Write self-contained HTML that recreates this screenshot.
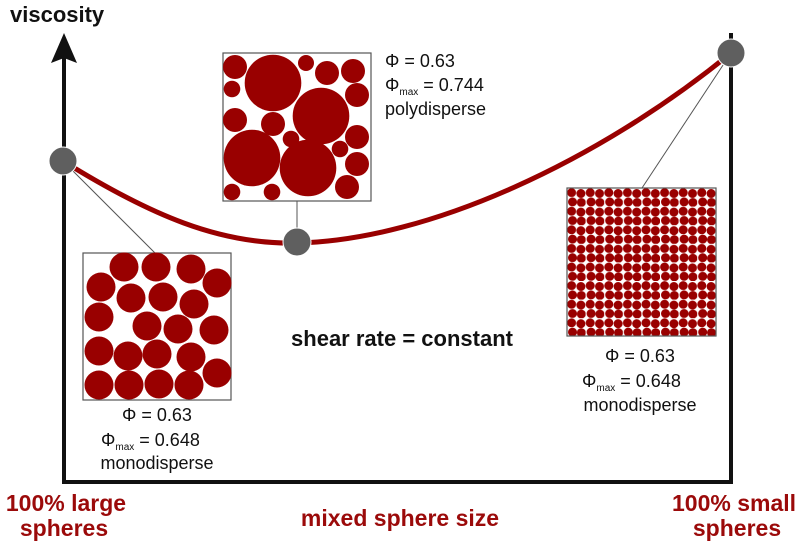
<!DOCTYPE html>
<html><head><meta charset="utf-8"><style>
html,body{margin:0;padding:0;background:#fff;}
svg{display:block;font-family:"Liberation Sans",sans-serif;}
</style></head><body>
<svg width="800" height="550" viewBox="0 0 800 550">
<defs>
<pattern id="sm" x="567" y="188" width="18.6" height="18.6" patternUnits="userSpaceOnUse">
<circle cx="4.6" cy="4.6" r="4.5" fill="#990000"/>
<circle cx="13.9" cy="5.5" r="4.5" fill="#990000"/>
<circle cx="5.5" cy="13.9" r="4.5" fill="#990000"/>
<circle cx="14.3" cy="14.5" r="4.5" fill="#990000"/>
</pattern>
</defs>
<line x1="64" y1="58" x2="64" y2="484" stroke="#111" stroke-width="4"/>
<polygon points="64,33 51,63 64,58 77,63" fill="#111"/>
<line x1="731" y1="33" x2="731" y2="484" stroke="#111" stroke-width="4"/>
<line x1="62" y1="482" x2="733" y2="482" stroke="#111" stroke-width="4"/>
<text x="10" y="22" font-size="22" font-weight="bold" fill="#111">viscosity</text>
<line x1="63" y1="161" x2="155" y2="253" stroke="#555" stroke-width="1"/>
<line x1="297" y1="242" x2="297" y2="201" stroke="#555" stroke-width="1"/>
<line x1="731" y1="53" x2="642" y2="188" stroke="#555" stroke-width="1"/>
<path d="M63,161 C150,215 220,245 297,243 C430,240 600,160 731,53" fill="none" stroke="#990000" stroke-width="5"/>
<circle cx="63" cy="161" r="14" fill="#5f5f5f" stroke="#fff" stroke-width="1"/>
<circle cx="297" cy="242" r="14" fill="#5f5f5f" stroke="#fff" stroke-width="1"/>
<circle cx="731" cy="53" r="14" fill="#5f5f5f" stroke="#fff" stroke-width="1"/>
<rect x="83" y="253" width="148" height="147" fill="#fff" stroke="#555" stroke-width="1.2"/>
<g fill="#990000">
<circle cx="124" cy="267" r="14.5"/><circle cx="156" cy="267" r="14.5"/><circle cx="191" cy="269" r="14.5"/><circle cx="217" cy="283" r="14.5"/>
<circle cx="101" cy="287" r="14.5"/><circle cx="131" cy="298" r="14.5"/><circle cx="163" cy="297" r="14.5"/><circle cx="194" cy="304" r="14.5"/>
<circle cx="99" cy="317" r="14.5"/><circle cx="147" cy="326" r="14.5"/><circle cx="178" cy="329" r="14.5"/><circle cx="214" cy="330" r="14.5"/>
<circle cx="99" cy="351" r="14.5"/><circle cx="128" cy="356" r="14.5"/><circle cx="157" cy="354" r="14.5"/><circle cx="191" cy="357" r="14.5"/><circle cx="217" cy="373" r="14.5"/>
<circle cx="99" cy="385" r="14.5"/><circle cx="129" cy="385" r="14.5"/><circle cx="159" cy="384" r="14.5"/><circle cx="189" cy="385" r="14.5"/>
</g>
<rect x="223" y="53" width="148" height="148" fill="#fff" stroke="#555" stroke-width="1.2"/>
<g fill="#990000">
<circle cx="235" cy="67" r="12"/><circle cx="273" cy="83" r="28.3"/><circle cx="306" cy="63" r="8"/><circle cx="327" cy="73" r="12"/><circle cx="353" cy="71" r="12"/>
<circle cx="232" cy="89" r="8.3"/><circle cx="357" cy="95" r="12"/><circle cx="235" cy="120" r="12"/><circle cx="273" cy="124" r="12"/>
<circle cx="321" cy="116" r="28.3"/><circle cx="291" cy="139" r="8.3"/><circle cx="357" cy="137" r="12"/><circle cx="252" cy="158" r="28.3"/>
<circle cx="308" cy="168" r="28.3"/><circle cx="340" cy="149" r="8.3"/><circle cx="357" cy="164" r="12"/><circle cx="232" cy="192" r="8.3"/>
<circle cx="272" cy="192" r="8.3"/><circle cx="347" cy="187" r="12"/>
</g>
<rect x="567" y="188" width="149" height="148" fill="url(#sm)" stroke="#555" stroke-width="1.2"/>
<g font-size="18" fill="#111">
<text x="157" y="421" text-anchor="middle">Φ = 0.63</text>
<text x="101" y="446">Φ<tspan font-size="10" dy="4">max</tspan><tspan dy="-4"> = 0.648</tspan></text>
<text x="157" y="469" text-anchor="middle">monodisperse</text>
<text x="385" y="67">Φ = 0.63</text>
<text x="385" y="91">Φ<tspan font-size="10" dy="4">max</tspan><tspan dy="-4"> = 0.744</tspan></text>
<text x="385" y="115">polydisperse</text>
<text x="640" y="362" text-anchor="middle">Φ = 0.63</text>
<text x="582" y="387">Φ<tspan font-size="10" dy="4">max</tspan><tspan dy="-4"> = 0.648</tspan></text>
<text x="640" y="411" text-anchor="middle">monodisperse</text>
</g>
<text x="402" y="346" font-size="22" font-weight="bold" fill="#111" text-anchor="middle">shear rate = constant</text>
<g font-size="23" font-weight="bold" fill="#9b0a0a">
<text x="66" y="511" text-anchor="middle">100% large</text>
<text x="64" y="536" text-anchor="middle">spheres</text>
<text x="400" y="526" text-anchor="middle">mixed sphere size</text>
<text x="734" y="511" text-anchor="middle">100% small</text>
<text x="737" y="536" text-anchor="middle">spheres</text>
</g>
</svg>
</body></html>
